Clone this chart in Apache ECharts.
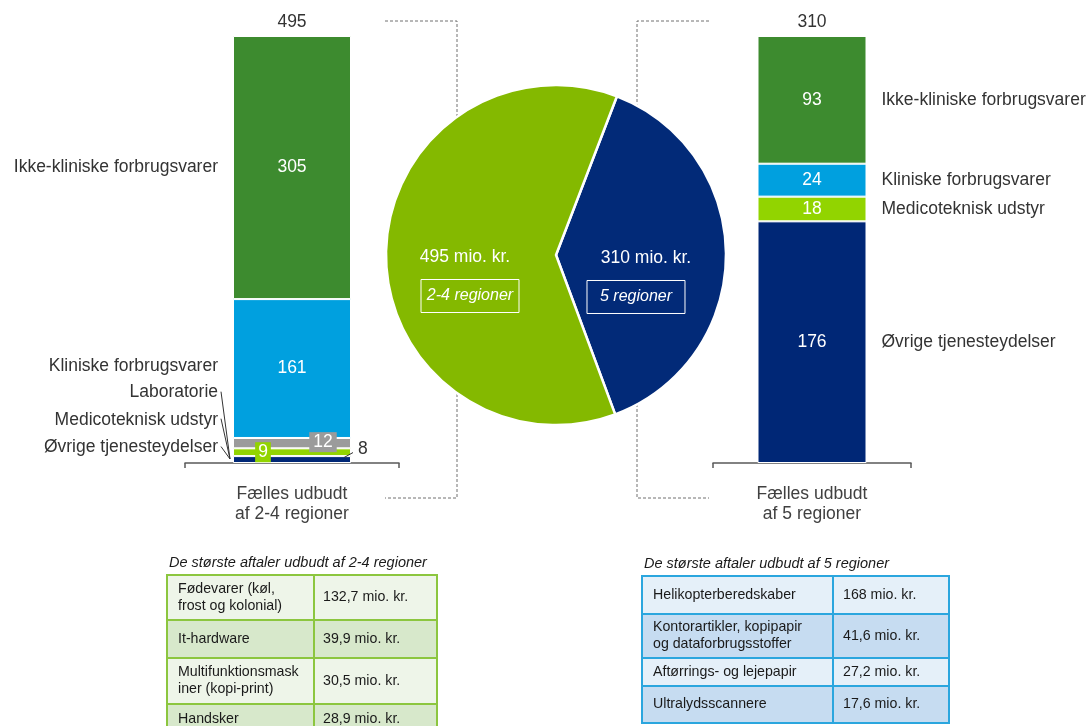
<!DOCTYPE html>
<html>
<head>
<meta charset="utf-8">
<script src="https://cdn.jsdelivr.net/npm/echarts@6/dist/echarts.min.js"></script>
<style>
  html, body { margin: 0; padding: 0; background: #fff; }
  #chart { width: 1089px; height: 726px; }
</style>
</head>
<body>
<div id="chart"></div>
<script>
// Spend categories, listed from the top of each stack downwards
const segmentNames = ['Ikke-kliniske forbrugsvarer', 'Kliniske forbrugsvarer', 'Laboratorie', 'Medicoteknisk udstyr', 'Øvrige tjenesteydelser'];
const segmentColors = ['#3d8b2f', '#00a0df', '#9b9b9b', '#92d400', '#002776'];
const barCategories = ['Fælles udbudt\naf 2-4 regioner', 'Fælles udbudt\naf 5 regioner'];

// mio. kr. per category (null = category not tendered)
const values24 = [305, 161, 12, 9, 8];
const values5 = [93, 24, null, 18, 176];

// Stated totals, mio. kr. (2-4 regioner, 5 regioner)
const tenderTotals = [495, 310];

// Pie: total spend per tender type
const pieNames = ['2-4 regioner', '5 regioner'];
const pieColors = ['#84b900', '#022a78'];

// Largest contracts tables
const table24Title = 'De største aftaler udbudt af 2-4 regioner';
const table24Items = ['Fødevarer (køl,\nfrost og kolonial)', 'It-hardware', 'Multifunktionsmask\niner (kopi-print)', 'Handsker'];
const table24Amounts = ['132,7 mio. kr.', '39,9 mio. kr.', '30,5 mio. kr.', '28,9 mio. kr.'];
const table5Title = 'De største aftaler udbudt af 5 regioner';
const table5Items = ['Helikopterberedskaber', 'Kontorartikler, kopipapir\nog dataforbrugsstoffer', 'Aftørrings- og lejepapir', 'Ultralydsscannere'];
const table5Amounts = ['168 mio. kr.', '41,6 mio. kr.', '27,2 mio. kr.', '17,6 mio. kr.'];

const FONT = '"Liberation Sans", Arial, sans-serif';
const FS = 17.5;
const TXT = '#333333';

const sum = arr => arr.reduce((a, v) => a + (v || 0), 0);

// vertical shift of the left-hand name labels so the small ones fan out
const leftNameShift = [0, -2.5, -50.5, -32.5, -12];

function valueLabel(side, i) {
  const base = { show: true, position: 'inside', color: '#fff', fontSize: FS, fontFamily: FONT };
  if (side === 0 && i === 2) return Object.assign(base, { offset: [31, -1], backgroundColor: segmentColors[2], padding: [1, 4] });
  if (side === 0 && i === 3) return Object.assign(base, { offset: [-29, 0], backgroundColor: segmentColors[3], padding: [1, 3] });
  if (side === 0 && i === 4) return Object.assign(base, { position: 'right', distance: 7, offset: [0, -10], color: TXT });
  return base;
}

function buildStack(side, values, barWidth) {
  const out = [];
  const stackId = 'v' + side;
  const nameStack = 'n' + side;
  for (let i = values.length - 1; i >= 0; i--) {
    if (values[i] == null) continue;
    out.push({
      type: 'bar', name: segmentNames[i], xAxisIndex: side, yAxisIndex: side,
      stack: stackId, barWidth: barWidth, barGap: '-100%',
      data: [values[i]],
      itemStyle: { color: segmentColors[i], borderColor: '#fff', borderWidth: 1 },
      label: valueLabel(side, i),
      emphasis: { disabled: true }, silent: true
    });
  }
  // stated total on top of the stack
  out.push({
    type: 'bar', xAxisIndex: side, yAxisIndex: side, stack: stackId, barWidth: barWidth, barGap: '-100%',
    data: [0], itemStyle: { color: 'rgba(0,0,0,0)' },
    label: { show: true, position: 'top', distance: 5, color: TXT, fontSize: FS, fontFamily: FONT,
             formatter: () => String(tenderTotals[side]) },
    silent: true
  });
  // transparent twin stack that carries the category names
  for (let i = values.length - 1; i >= 0; i--) {
    if (values[i] == null) continue;
    out.push({
      type: 'bar', xAxisIndex: side, yAxisIndex: side, stack: nameStack, barWidth: barWidth, barGap: '-100%',
      data: [values[i]], itemStyle: { color: 'rgba(0,0,0,0)' },
      label: { show: true, position: side === 0 ? 'left' : 'right', distance: 15,
               color: TXT, fontSize: FS, fontFamily: FONT, formatter: segmentNames[i] },
      labelLayout: side === 0 ? { dy: leftNameShift[i] } : undefined,
      silent: true
    });
  }
  return out;
}

const axisCommon = {
  type: 'category',
  axisLine: { lineStyle: { color: '#595959', width: 1.5 } },
  axisTick: { show: true, length: 5, lineStyle: { color: '#595959', width: 1.5 } },
  axisLabel: { color: '#404040', fontSize: FS, fontFamily: FONT, lineHeight: 20, margin: 21, interval: 0 }
};

// pie slices: 5 regioner first so it starts just right of twelve o'clock
const pieData = [
  { name: pieNames[1], value: tenderTotals[1], itemStyle: { color: pieColors[1] } },
  { name: pieNames[0], value: tenderTotals[0], itemStyle: { color: pieColors[0] } }
];
const pieGeom = { center: [556, 255], radius: 170, startAngle: 69, clockwise: true, silent: true, emphasis: { disabled: true } };

const chart = echarts.init(document.getElementById('chart'));

chart.setOption({
  animation: false,
  backgroundColor: '#fff',
  grid: [
    { left: 185, width: 214, top: 36, bottom: 263 },
    { left: 713, width: 198, top: 36, bottom: 263 }
  ],
  xAxis: [
    Object.assign({}, axisCommon, { gridIndex: 0, data: [barCategories[0]] }),
    Object.assign({}, axisCommon, { gridIndex: 1, data: [barCategories[1]] })
  ],
  yAxis: [
    { type: 'value', gridIndex: 0, min: 0, max: sum(values24), show: false },
    { type: 'value', gridIndex: 1, min: 0, max: sum(values5), show: false }
  ],
  series: [
    ...buildStack(0, values24, 118),
    ...buildStack(1, values5, 109),
    Object.assign({}, pieGeom, {
      type: 'pie',
      itemStyle: { borderColor: '#fff', borderWidth: 2.5 },
      data: pieData,
      label: { show: true, position: 'inside', color: '#fff', fontFamily: FONT, fontSize: FS,
               formatter: p => p.value + ' mio. kr.' },
      labelLine: { show: false },
      labelLayout: p => ({ dx: p.dataIndex === 0 ? 1 : -1.5, dy: 1.5 })
    }),
    // transparent twin carrying the boxed tender-type captions
    Object.assign({}, pieGeom, {
      type: 'pie',
      itemStyle: { color: 'rgba(0,0,0,0)', borderWidth: 0 },
      data: pieData.map(d => ({ name: d.name, value: d.value, itemStyle: { color: 'rgba(0,0,0,0)' } })),
      label: { show: true, position: 'inside', color: '#fff', fontFamily: FONT, fontSize: 16, fontStyle: 'italic',
               formatter: '{b}', borderColor: '#fff', borderWidth: 1, padding: [8, 5], width: 88, overflow: 'none',
               lineHeight: 17, align: 'center' },
      labelLine: { show: false },
      labelLayout: p => ({ dx: p.dataIndex === 0 ? -4 : 1, dy: 20.75 })
    })
  ]
});

// ---- annotations placed through the chart's own coordinate system ----
const g = [];

function px(side, v) { return chart.convertToPixel({ gridIndex: side }, [0, v]); }

// dashed brackets linking the bars to the pie
const dash = { stroke: '#707070', lineWidth: 1, lineDash: [3, 2], fill: null };
g.push({ type: 'polyline', z: 0, shape: { points: [[385, 21], [457, 21], [457, 498], [385, 498]] }, style: dash, silent: true });
g.push({ type: 'polyline', z: 0, shape: { points: [[709, 21], [637, 21], [637, 498], [709, 498]] }, style: dash, silent: true });

// leader lines for the thin segments of the left stack
(function () {
  const w = 118;
  const bottom = px(0, 0);
  const barLeft = bottom[0] - w / 2;
  const barRight = bottom[0] + w / 2;
  let cum = 0;
  const mids = [];
  for (let i = values24.length - 1; i >= 0; i--) {
    mids[i] = px(0, cum + values24[i] / 2)[1];
    cum += values24[i];
  }
  [2, 3, 4].forEach(i => {
    const ly = mids[i] + leftNameShift[i];
    g.push({ type: 'line', shape: { x1: barLeft - 12, y1: ly - 1, x2: barLeft - 3, y2: bottom[1] - 4 },
             style: { stroke: '#333', lineWidth: 1 }, silent: true });
  });
  g.push({ type: 'line', shape: { x1: barRight - 7, y1: mids[4] - 2, x2: barRight + 2, y2: mids[4] - 7 },
           style: { stroke: '#333', lineWidth: 1 }, z: 10, silent: true });
})();

// tables of the largest contracts
function table(x0, y0, width, colX, rowHeights, items, amounts, light, dark, border, title, pad1, pad2) {
  g.push({ type: 'text', style: { text: title, x: x0 + 2, y: y0 - 12, font: 'italic 14.5px ' + FONT, fill: '#1a1a1a', verticalAlign: 'middle' }, silent: true });
  let y = y0;
  const lines = [];
  items.forEach((item, r) => {
    const h = rowHeights[r];
    g.push({ type: 'rect', shape: { x: x0, y: y, width: width, height: h }, style: { fill: r % 2 ? dark : light }, silent: true });
    g.push({ type: 'text', style: { text: item, x: x0 + pad1, y: y + h / 2, font: '14.2px ' + FONT, fill: '#1a1a1a', verticalAlign: 'middle', lineHeight: 17 }, silent: true });
    g.push({ type: 'text', style: { text: amounts[r], x: colX + pad2, y: y + h / 2, font: '14.2px ' + FONT, fill: '#1a1a1a', verticalAlign: 'middle' }, silent: true });
    y += h;
    lines.push(y);
  });
  const strokeStyle = { stroke: border, lineWidth: 2 };
  lines.slice(0, -1).forEach(ly => g.push({ type: 'line', shape: { x1: x0, y1: ly, x2: x0 + width, y2: ly }, style: strokeStyle, silent: true }));
  g.push({ type: 'line', shape: { x1: colX, y1: y0, x2: colX, y2: y }, style: strokeStyle, silent: true });
  g.push({ type: 'rect', shape: { x: x0, y: y0, width: width, height: y - y0 }, style: { fill: null, stroke: border, lineWidth: 2 }, silent: true });
}

table(167, 575, 270, 314, [45, 38, 46, 30], table24Items, table24Amounts, '#eef5e9', '#d7e8cb', '#8cc63f', table24Title, 11, 9);
table(642, 576, 307, 833, [38, 44, 28, 37], table5Items, table5Amounts, '#e5f0f9', '#c6dcf1', '#2ba6de', table5Title, 11, 10);

chart.setOption({ graphic: { elements: g } });
</script>
</body>
</html>
